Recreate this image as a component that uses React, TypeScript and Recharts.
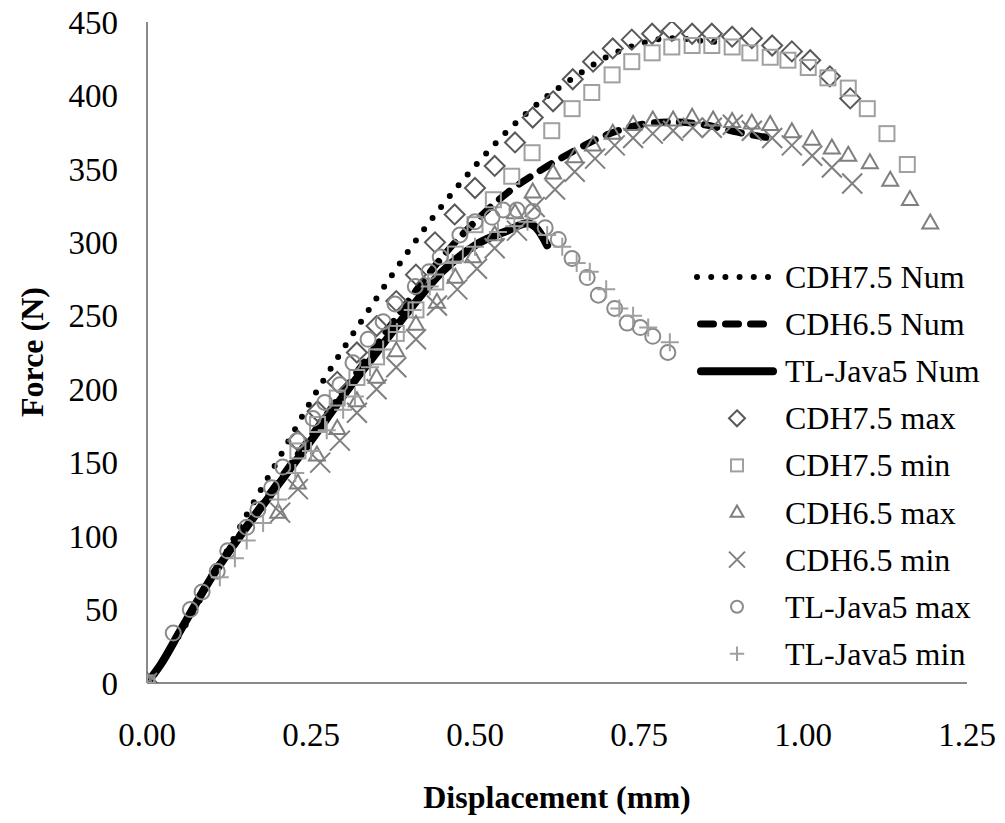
import { ComposedChart, Line, Scatter, XAxis, YAxis, Label } from 'recharts';

// displacement (mm), force (N)
const cdh75Num = [
  [0, 0], [0.05, 33], [0.1, 72], [0.15, 113], [0.2, 152], [0.25, 192], [0.3, 228], [0.35, 262],
  [0.4, 295], [0.45, 325], [0.5, 352], [0.55, 376], [0.6, 396], [0.65, 412], [0.7, 426],
  [0.75, 435], [0.8, 439], [0.85, 437], [0.88, 436],
];
const cdh65Num = [
  [0, 0], [0.02, 12], [0.05, 35], [0.1, 74], [0.15, 106], [0.2, 137], [0.25, 168], [0.3, 199],
  [0.35, 230], [0.4, 261], [0.45, 290], [0.5, 314], [0.55, 334], [0.6, 349], [0.65, 362],
  [0.7, 373], [0.75, 380], [0.8, 382], [0.85, 380], [0.9, 375], [0.95, 371],
];
const tlJava5Num = [
  [0, 0], [0.02, 12], [0.05, 35], [0.1, 73], [0.15, 105], [0.2, 135], [0.25, 165], [0.3, 196],
  [0.35, 225], [0.4, 254], [0.45, 280], [0.5, 298], [0.55, 308], [0.58, 313], [0.595, 309], [0.61, 298],
];

const cdh75Max = [
  [0, 0], [0.23, 165], [0.26, 185], [0.29, 205], [0.32, 225], [0.35, 243], [0.38, 260], [0.41, 278],
  [0.439, 300], [0.469, 319], [0.5, 337], [0.53, 352], [0.561, 368], [0.588, 385], [0.619, 396],
  [0.649, 411], [0.68, 423], [0.71, 432], [0.739, 438], [0.77, 442], [0.8, 444], [0.831, 442],
  [0.861, 442], [0.892, 440], [0.922, 439], [0.953, 434], [0.983, 430], [1.011, 424],
  [1.041, 413], [1.072, 398],
];
const cdh75Min = [
  [0, 0], [0.23, 158], [0.26, 176], [0.29, 194], [0.32, 208], [0.35, 222], [0.38, 238], [0.41, 254],
  [0.44, 273], [0.47, 292], [0.5, 312], [0.528, 329], [0.556, 345], [0.587, 361], [0.617, 376],
  [0.648, 391], [0.678, 402], [0.709, 414], [0.739, 423], [0.77, 429], [0.8, 433], [0.831, 434],
  [0.861, 434], [0.892, 433], [0.919, 429], [0.95, 426], [0.977, 424], [1.008, 419],
  [1.038, 412], [1.069, 405], [1.098, 391], [1.128, 374], [1.159, 353],
];
const cdh65Max = [
  [0, 0], [0.2, 116],
  [0.23, 136], [0.259, 155], [0.29, 173], [0.32, 192], [0.35, 208], [0.38, 226], [0.41, 244],
  [0.442, 259], [0.47, 276], [0.497, 290], [0.53, 305], [0.561, 320], [0.588, 334], [0.619, 347],
  [0.652, 358], [0.68, 366], [0.71, 374], [0.741, 380], [0.771, 383], [0.802, 383], [0.831, 385],
  [0.863, 383], [0.892, 382], [0.922, 381], [0.95, 380], [0.983, 375], [1.014, 370],
  [1.044, 364], [1.069, 359], [1.102, 354], [1.133, 342], [1.163, 329], [1.194, 313],
];
const cdh65Min = [
  [0, 0], [0.203, 116],
  [0.23, 132], [0.264, 150], [0.294, 165], [0.32, 184], [0.35, 200], [0.38, 215], [0.41, 234],
  [0.442, 257], [0.473, 268], [0.503, 282], [0.53, 296], [0.564, 308], [0.591, 324], [0.622, 336],
  [0.652, 348], [0.683, 357], [0.713, 366], [0.741, 371], [0.771, 374], [0.802, 376], [0.832, 378],
  [0.861, 378], [0.893, 380], [0.922, 376], [0.953, 371], [0.983, 366], [1.014, 359],
  [1.044, 351], [1.075, 340],
];
const tlJava5Max = [
  [0, 0], [0.04, 34], [0.066, 50], [0.084, 62], [0.107, 76], [0.123, 90], [0.152, 106], [0.169, 118],
  [0.19, 133], [0.207, 147], [0.229, 165], [0.253, 180], [0.271, 191], [0.294, 203], [0.314, 218],
  [0.337, 234], [0.36, 246], [0.378, 258], [0.409, 270], [0.43, 280], [0.447, 290], [0.477, 305],
  [0.5, 314], [0.526, 317], [0.543, 322], [0.564, 322], [0.588, 321], [0.607, 310], [0.627, 302],
  [0.648, 289], [0.671, 276], [0.688, 264], [0.713, 255], [0.732, 245], [0.752, 242],
  [0.771, 236], [0.794, 225],
];
const tlJava5Min = [
  [0, 0], [0.111, 72], [0.134, 85], [0.152, 97], [0.177, 109],
  [0.2, 125], [0.226, 143], [0.25, 158], [0.274, 172], [0.299, 186], [0.317, 195], [0.34, 215],
  [0.36, 227], [0.381, 239], [0.405, 254], [0.431, 270], [0.466, 286], [0.5, 297], [0.535, 307],
  [0.56, 311], [0.58, 314], [0.61, 305], [0.633, 297], [0.655, 286], [0.675, 280], [0.7, 268],
  [0.72, 255], [0.741, 250], [0.764, 242], [0.797, 232],
];

const xTicks = [0, 0.25, 0.5, 0.75, 1, 1.25];
const yTicks = [0, 50, 100, 150, 200, 250, 300, 350, 400, 450];

const FONT = '"Liberation Serif", "Times New Roman", serif';
const AXIS_GREY = '#898989';

const toPoints = (pairs: number[][]) => pairs.map(([x, y]) => ({ x, y }));

type Kind = 'diamond' | 'square' | 'triangle' | 'cross' | 'circle' | 'plus';

const markerColor: Record<Kind, string> = {
  diamond: '#595959',
  square: '#a0a0a0',
  triangle: '#7f7f7f',
  cross: '#7f7f7f',
  circle: '#8a8a8a',
  plus: '#a0a0a0',
};

function Marker({ kind, cx, cy, s = 1 }: { kind: Kind; cx: number; cy: number; s?: number }) {
  const stroke = markerColor[kind];
  const common = { fill: 'none', stroke, strokeWidth: 2 };
  if (cx == null || cy == null) return null;
  switch (kind) {
    case 'diamond': {
      const r = 10 * s;
      return <path d={`M${cx},${cy - r}L${cx + r},${cy}L${cx},${cy + r}L${cx - r},${cy}Z`} {...common} />;
    }
    case 'square': {
      const h = 7.5 * s;
      return <rect x={cx - h} y={cy - h} width={2 * h} height={2 * h} {...common} />;
    }
    case 'triangle': {
      const t = 8 * s;
      return <path d={`M${cx},${cy - t * 1.1}L${cx + t},${cy + t * 0.65}L${cx - t},${cy + t * 0.65}Z`} {...common} />;
    }
    case 'cross': {
      const c = 10 * s;
      return <path d={`M${cx - c},${cy - c}L${cx + c},${cy + c}M${cx - c},${cy + c}L${cx + c},${cy - c}`} {...common} />;
    }
    case 'circle':
      return <circle cx={cx} cy={cy} r={7.5 * s} {...common} />;
    case 'plus': {
      const p = 9 * s;
      return <path d={`M${cx - p},${cy}L${cx + p},${cy}M${cx},${cy - p}L${cx},${cy + p}`} {...common} />;
    }
  }
  return null;
}

const markerSeries: { name: string; kind: Kind; data: number[][] }[] = [
  { name: 'CDH7.5 max', kind: 'diamond', data: cdh75Max },
  { name: 'CDH7.5 min', kind: 'square', data: cdh75Min },
  { name: 'CDH6.5 max', kind: 'triangle', data: cdh65Max },
  { name: 'CDH6.5 min', kind: 'cross', data: cdh65Min },
  { name: 'TL-Java5 max', kind: 'circle', data: tlJava5Max },
  { name: 'TL-Java5 min', kind: 'plus', data: tlJava5Min },
];

function ChartLegend() {
  const rowY = (i: number) => 27 + i * 47.1;
  const textX = 95;
  const textProps = { x: textX, fontFamily: FONT, fontSize: 32, fill: '#000', dominantBaseline: 'central' as const };
  return (
    <svg width={310} height={440} style={{ position: 'absolute', left: 690, top: 250, overflow: 'visible' }}>
      <line x1={7} x2={78} y1={rowY(0)} y2={rowY(0)} stroke="#000" strokeWidth={6} strokeDasharray="0 14.2" strokeLinecap="round" />
      <text {...textProps} y={rowY(0)}>CDH7.5 Num</text>
      <line x1={10.5} x2={74} y1={rowY(1)} y2={rowY(1)} stroke="#000" strokeWidth={7} strokeDasharray="13 12" strokeLinecap="round" />
      <text {...textProps} y={rowY(1)}>CDH6.5 Num</text>
      <line x1={11} x2={83} y1={rowY(2)} y2={rowY(2)} stroke="#000" strokeWidth={8} strokeLinecap="round" />
      <text {...textProps} y={rowY(2)}>TL-Java5 Num</text>
      {markerSeries.map((m, i) => (
        <g key={m.name}>
          <Marker kind={m.kind} cx={47} cy={rowY(i + 3)} s={0.8} />
          <text {...textProps} y={rowY(i + 3)}>{m.name}</text>
        </g>
      ))}
    </svg>
  );
}

export default function App() {
  const tickStyle = { fontFamily: FONT, fontSize: 33, fill: '#000' };
  return (
    <div style={{ position: 'absolute', left: 0, top: 0, width: 1005, height: 823, background: '#fff' }}>
      <ComposedChart width={1005} height={823} margin={{ top: 22, right: 38, bottom: 80, left: 47 }}>
        <XAxis
          type="number"
          dataKey="x"
          domain={[0, 1.25]}
          ticks={xTicks}
          tickFormatter={(v: number) => v.toFixed(2)}
          height={60}
          tickLine={false}
          tickSize={0}
          tickMargin={40}
          axisLine={{ stroke: AXIS_GREY, strokeWidth: 2 }}
          tick={tickStyle}
          allowDataOverflow
        >
          <Label
            content={() => (
              <text x={557} y={808} textAnchor="middle" fontFamily={FONT} fontSize={32} fontWeight="bold" fill="#000">
                Displacement (mm)
              </text>
            )}
          />
        </XAxis>
        <YAxis
          type="number"
          domain={[0, 450]}
          ticks={yTicks}
          width={100}
          tickLine={false}
          tickSize={0}
          tickMargin={29}
          axisLine={{ stroke: AXIS_GREY, strokeWidth: 2 }}
          tick={tickStyle}
          allowDataOverflow
        >
          <Label
            content={() => (
              <text
                x={32}
                y={352}
                transform="rotate(-90, 32, 352)"
                textAnchor="middle"
                dominantBaseline="central"
                fontFamily={FONT}
                fontSize={32}
                fontWeight="bold"
                fill="#000"
              >
                Force (N)
              </text>
            )}
          />
        </YAxis>

        <Line
          data={toPoints(cdh75Num)}
          dataKey="y"
          type="monotone"
          stroke="#000"
          strokeWidth={6}
          strokeDasharray="0 14"
          strokeLinecap="round"
          dot={false}
          activeDot={false}
          isAnimationActive={false}
        />
        <Line
          data={toPoints(cdh65Num)}
          dataKey="y"
          type="monotone"
          stroke="#000"
          strokeWidth={7}
          strokeDasharray="13 12"
          strokeLinecap="round"
          dot={false}
          activeDot={false}
          isAnimationActive={false}
        />
        <Line
          data={toPoints(tlJava5Num)}
          dataKey="y"
          type="monotone"
          stroke="#000"
          strokeWidth={8}
          strokeLinecap="round"
          dot={false}
          activeDot={false}
          isAnimationActive={false}
        />

        {markerSeries.map((m) => (
          <Scatter
            key={m.name}
            name={m.name}
            data={toPoints(m.data)}
            dataKey="y"
            isAnimationActive={false}
            shape={(p: any) => <Marker kind={m.kind} cx={p.cx} cy={p.cy} />}
          />
        ))}
      </ComposedChart>
      <ChartLegend />
    </div>
  );
}
